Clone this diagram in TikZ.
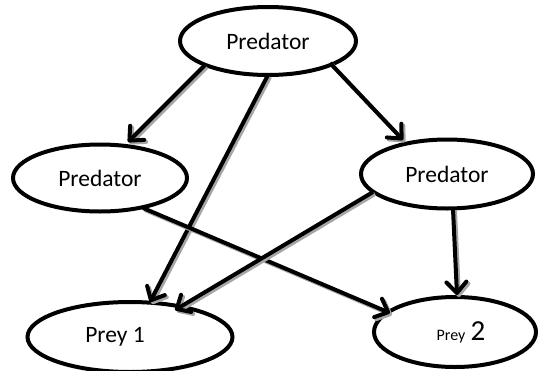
\documentclass[tikz,border=0pt]{standalone}
\usepackage{fontspec}
\setmainfont{Carlito}
\usetikzlibrary{arrows.meta,shapes.geometric}
\begin{document}
\begin{tikzpicture}[x=1pt,y=-1pt,
  oval/.style={ellipse, draw=black, line width=4pt, fill=white, inner sep=0pt, font=\fontsize{23.5}{26}\selectfont},
  link/.style={line width=4pt, -{Straight Barb[length=11pt,width=20pt,line width=4pt,round]},
    preaction={draw=black!35, line width=4pt, transform canvas={shift={(2pt,-2pt)}}}},
]
\useasboundingbox (0,0) rectangle (541,370);
\node[oval, minimum width=176pt, minimum height=68pt] (top) at (268,41) {Predator};
\node[oval, minimum width=174pt, minimum height=67pt] (lp) at (100,178) {Predator};
\node[oval, minimum width=172pt, minimum height=69pt] (rp) at (447,174) {Predator};
\node[oval, minimum width=205pt, minimum height=70pt] (p1) at (130,337) {\hspace*{-30pt}Prey 1};
\node[oval, minimum width=162pt, minimum height=70pt] (p2) at (455,332) {\hspace*{12pt}{\fontsize{16}{18}\selectfont Prey} \fontsize{29}{30}\selectfont 2};
\coordinate (a1s) at (205,65); \coordinate (a1e) at (128,142);
\coordinate (a2s) at (268,75); \coordinate (a2e) at (150,302);
\coordinate (a3s) at (330,63); \coordinate (a3e) at (403,140);
\coordinate (a4s) at (143,208); \coordinate (a4e) at (390,313);
\coordinate (a5s) at (373,192); \coordinate (a5e) at (175,310);
\coordinate (a6s) at (453,209); \coordinate (a6e) at (457,295);
\draw[link] (a1s) -- (a1e);
\draw[link] (a2s) -- (a2e);
\draw[link] (a3s) -- (a3e);
\draw[link] (a4s) -- (a4e);
\draw[link] (a5s) -- (a5e);
\draw[link] (a6s) -- (a6e);
\end{tikzpicture}
\end{document}
